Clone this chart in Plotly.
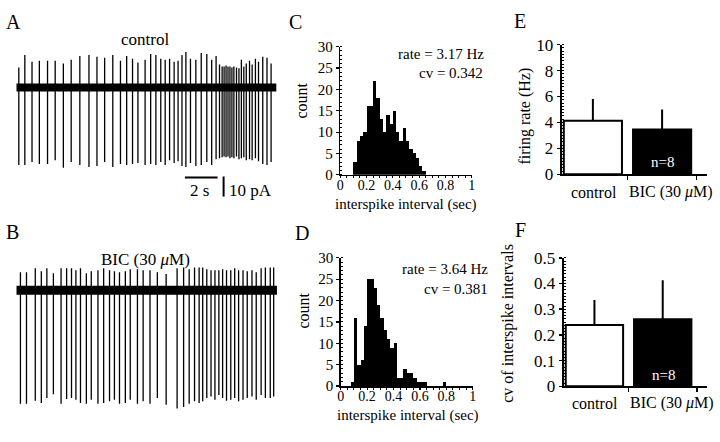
import plotly.graph_objects as go

W, H = 720, 442
FONT = "Liberation Serif"

# ---------------- Panel A / B : membrane current traces ----------------
ctrl_spike_t = [0.18, 0.55, 0.99, 1.44, 1.94, 2.41, 2.91, 3.39, 3.92, 4.48,
                4.97, 5.44, 5.94, 6.41, 6.79, 7.15, 7.48, 7.92, 8.26, 8.58,
                8.88, 9.15, 9.42, 9.70, 9.94, 10.18, 10.42, 10.70, 11.03, 11.36,
                11.70, 12.00, 12.27, 12.48, 12.64, 12.76, 12.88, 13.00, 13.12, 13.24,
                13.36, 13.52, 13.67, 13.82, 13.97, 14.12, 14.32, 14.48, 14.68, 14.87,
                15.13, 15.39, 15.64]
ctrl_spike_up = [10.5, 17, 13.5, 14, 14, 14, 12.5, 14.5, 16.5, 17,
                 16, 15.5, 17, 14, 16.5, 15, 13, 14.5, 17.5, 17,
                 15, 14.5, 15, 13.5, 14, 17, 18.5, 15, 14.5, 18,
                 17.5, 14.5, 16.5, 12, 11, 11, 11.5, 11, 11, 10.5,
                 11, 10.5, 10, 14.5, 11, 12.5, 14, 12, 15, 13.5,
                 16, 15.5, 12.5]
ctrl_spike_down = [-40.5, -40.5, -39, -40, -40, -38, -42, -39, -40.5, -41.5,
                   -41, -39, -41.5, -40, -40.5, -40, -39.5, -40.5, -40, -40.5,
                   -39, -40.5, -38, -39.5, -38.5, -41, -41.5, -39.5, -41, -40.5,
                   -39, -40.5, -37.5, -37, -36.5, -36, -36.5, -36, -37, -36.5,
                   -37, -36, -37.5, -37, -36.5, -38, -37.5, -38, -37, -38.5,
                   -40, -40.5, -39]
ctrl_trace_span = [0.04, 15.96]

bic_spike_t = [0.28, 0.65, 1.19, 1.56, 1.90, 2.30, 2.77, 3.11, 3.41, 3.68,
               3.96, 4.32, 4.62, 5.03, 5.38, 5.74, 6.04, 6.35, 6.71, 7.01,
               7.45, 7.80, 8.22, 8.67, 9.21, 9.88, 10.28, 10.62, 10.95, 11.23,
               11.45, 11.70, 11.96, 12.20, 12.44, 12.67, 12.91, 13.17, 13.41, 13.65,
               13.92, 14.18, 14.47, 14.73, 15.03, 15.29, 15.59, 15.80]
bic_spike_up = [9.5, 9.5, 11.5, 10, 11.5, 9, 11.5, 11.5, 11.5, 10.5,
                11.5, 9, 10, 10.5, 11.5, 10.5, 10, 9.5, 10, 11,
                11, 10.5, 10.5, 9.5, 8.5, 11.5, 12, 11, 12, 12,
                12, 11, 10.5, 10.5, 10.5, 11, 10.5, 10.5, 11.5, 10.5,
                10.5, 10, 10.5, 9.5, 11.5, 12, 12, 12]
bic_spike_down = [-59.3, -59.3, -57.7, -58.8, -56.3, -54.3, -59.3, -56.7, -56.3, -57.2,
                  -58.8, -59.3, -57.2, -59.3, -58.8, -58, -57.2, -59.3, -58.8, -57.2,
                  -59.3, -58, -59.3, -56.3, -59.7, -61.7, -61, -59.3, -58, -58.8,
                  -58, -56.3, -55.5, -57.2, -54.7, -56.3, -57.7, -57.2, -56.3, -58,
                  -57.2, -56.3, -55.5, -57.2, -54.7, -56.3, -56.3, -55.5]
bic_trace_span = [0.04, 16.0]

# scale bars (2 s, 10 pA)
scale_t = [10.36, 12.36]
scale_pa = [-46.5, -56.5]

# ---------------- Panel C / D : ISI histograms ----------------
isi_bin_width = 0.025
ctrl_isi_left = [0.1, 0.125, 0.15, 0.175, 0.2, 0.225, 0.25, 0.275, 0.3, 0.325,
                 0.35, 0.375, 0.4, 0.425, 0.45, 0.475, 0.5, 0.525, 0.55, 0.575,
                 0.6, 0.625]
ctrl_isi_count = [3, 8, 9, 10, 16, 16, 22, 18, 13, 10,
                  14, 12, 15, 10, 8, 11, 8, 6, 5, 4,
                  2, 1]
bic_isi_left = [0.075, 0.1, 0.125, 0.15, 0.175, 0.2, 0.225, 0.25, 0.275, 0.3,
                0.325, 0.35, 0.375, 0.4, 0.425, 0.45, 0.475, 0.5, 0.525, 0.55,
                0.575, 0.6, 0.625, 0.775]
bic_isi_count = [1, 16, 5, 6, 14, 25, 25, 23, 19, 16,
                 13, 11, 9, 10, 2, 2, 4, 3, 3, 2,
                 1, 1, 1, 1]

# ---------------- Panel E / F : group summaries ----------------
groups = ["control", "BIC (30 μM)"]
rate_mean = [4.14, 3.45]
rate_sd = [1.67, 1.55]
cv_mean = [0.239, 0.261]
cv_sd = [0.097, 0.152]


def dx(a, b):
    return [a / W, b / W]


def dy(top, bottom):
    return [1 - bottom / H, 1 - top / H]


def segs(t, up, dn):
    xs, ys = [], []
    for ti, u, d in zip(t, up, dn):
        xs += [ti, ti, None]
        ys += [u, d, None]
    return xs, ys


fig = go.Figure()

# A trace
xs, ys = segs(ctrl_spike_t, ctrl_spike_up, ctrl_spike_down)
fig.add_trace(go.Scatter(x=ctrl_trace_span, y=[0, 0], mode="lines",
                         line=dict(color="black", width=8), xaxis="x", yaxis="y",
                         hoverinfo="skip"))
fig.add_trace(go.Scatter(x=xs, y=ys, mode="lines", line=dict(color="black", width=1.3),
                         xaxis="x", yaxis="y", connectgaps=False, hoverinfo="skip"))
# B trace
xs, ys = segs(bic_spike_t, bic_spike_up, bic_spike_down)
fig.add_trace(go.Scatter(x=bic_trace_span, y=[0, 0], mode="lines",
                         line=dict(color="black", width=9), xaxis="x2", yaxis="y2",
                         hoverinfo="skip"))
fig.add_trace(go.Scatter(x=xs, y=ys, mode="lines", line=dict(color="black", width=1.3),
                         xaxis="x2", yaxis="y2", connectgaps=False, hoverinfo="skip"))

# C, D histograms
fig.add_trace(go.Bar(x=[l + isi_bin_width / 2 for l in ctrl_isi_left], y=ctrl_isi_count,
                     width=isi_bin_width, marker=dict(color="black", line=dict(width=0)),
                     xaxis="x3", yaxis="y3"))
fig.add_trace(go.Bar(x=[l + isi_bin_width / 2 for l in bic_isi_left], y=bic_isi_count,
                     width=isi_bin_width, marker=dict(color="black", line=dict(width=0)),
                     xaxis="x4", yaxis="y4"))

# E, F bars
bar_style = dict(marker=dict(color=["white", "black"], line=dict(color="black", width=2)),
                 width=0.84)
fig.add_trace(go.Bar(x=groups, y=rate_mean, xaxis="x5", yaxis="y5",
                     error_y=dict(type="data", array=rate_sd, arrayminus=[0, 0], symmetric=False,
                                  color="black", thickness=2, width=0), **bar_style))
fig.add_trace(go.Bar(x=groups, y=cv_mean, xaxis="x6", yaxis="y6",
                     error_y=dict(type="data", array=cv_sd, arrayminus=[0, 0], symmetric=False,
                                  color="black", thickness=2, width=0), **bar_style))

hidden = dict(visible=False, fixedrange=True)


def hist_axes(xd, yd, anchor_x, anchor_y):
    xa = dict(domain=xd, range=[0, 1], anchor=anchor_y, showline=True, linecolor="black",
              linewidth=1.5, ticks="outside", ticklen=2, tickwidth=1.2, tickcolor="black",
              tickvals=[0, 0.2, 0.4, 0.6, 0.8, 1], ticktext=["0", "0.2", "0.4", "0.6", "0.8", "1"],
              minor=dict(dtick=0.05, ticks="outside", ticklen=2, tickcolor="black", tickwidth=1),
              showgrid=False, zeroline=False, fixedrange=True, ticklabelstandoff=-5,
              tickfont=dict(family=FONT, size=14, color="black"))
    ya = dict(domain=yd, range=[0, 30], anchor=anchor_x, showline=True, linecolor="black",
              linewidth=1.5, ticks="outside", ticklen=3, tickwidth=1.2, tickcolor="black",
              dtick=5, minor=dict(dtick=1, ticks="inside", ticklen=2, tickcolor="black", tickwidth=1),
              showgrid=False, zeroline=False, tickfont=dict(family=FONT, size=15, color="black"),
              fixedrange=True)
    return xa, ya


def bar_axes(xd, yd, anchor_x, anchor_y, yr, ydt, yminor):
    xa = dict(domain=xd, range=[-0.45, 1.65], anchor=anchor_y, showline=True, linecolor="black",
              linewidth=2, ticks="outside", ticklen=4, tickwidth=1.5, tickcolor="black",
              tickson="boundaries", showticklabels=False, showgrid=False, zeroline=False,
              type="category", fixedrange=True)
    ya = dict(domain=yd, range=yr, anchor=anchor_x, showline=True, linecolor="black",
              linewidth=2, ticks="outside", ticklen=3, tickwidth=1.5, tickcolor="black",
              dtick=ydt, minor=dict(dtick=yminor, ticks="inside", ticklen=2, tickcolor="black", tickwidth=1),
              showgrid=False, zeroline=False, tickfont=dict(family=FONT, size=17, color="black"),
              fixedrange=True)
    return xa, ya


x3, y3 = hist_axes(dx(340, 473), dy(39.3, 173.3), "x3", "y3")
x4, y4 = hist_axes(dx(340.5, 474), dy(260, 394), "x4", "y4")
x5, y5 = bar_axes(dx(564, 711), dy(37.3, 172.7), "x5", "y5", [0, 10], 2, 0.25)
x6, y6 = bar_axes(dx(566, 711), dy(260, 394.3), "x6", "y6", [0, 0.5], 0.1, 0.0125)

fig.update_layout(
    width=W, height=H, margin=dict(l=0, r=0, t=0, b=0), autosize=False,
    paper_bgcolor="white", plot_bgcolor="rgba(0,0,0,0)", showlegend=False,
    font=dict(family=FONT, color="black"),
    xaxis=dict(domain=dx(12, 278), range=[0, 16.12], anchor="y", **hidden),
    yaxis=dict(domain=dy(36, 200), range=[-59, 23], anchor="x", **hidden),
    xaxis2=dict(domain=dx(12, 278), range=[0, 16.12], anchor="y2", **hidden),
    yaxis2=dict(domain=dy(250, 430), range=[-68, 22], anchor="x2", **hidden),
    xaxis3=x3, yaxis3=y3, xaxis4=x4, yaxis4=y4,
    xaxis5=x5, yaxis5=y5, xaxis6=x6, yaxis6=y6,
    bargap=0,
)

# scale bars in A (data coordinates of trace A)
fig.add_shape(type="line", xref="x", yref="y", x0=scale_t[0], x1=scale_t[1],
              y0=scale_pa[0] - 0.5, y1=scale_pa[0] - 0.5, line=dict(color="black", width=2))
fig.add_shape(type="line", xref="x", yref="y", x0=scale_t[1] + 0.37, x1=scale_t[1] + 0.37,
              y0=scale_pa[0], y1=scale_pa[1] - 0.5, line=dict(color="black", width=2))


def ann(text, px, py, size=15, xanchor="center", angle=0, color="black"):
    fig.add_annotation(text=text, x=px / W, y=1 - py / H, xref="paper", yref="paper",
                       showarrow=False, xanchor=xanchor, yanchor="middle", textangle=angle,
                       font=dict(family=FONT, size=size, color=color), borderpad=0)


# panel letters
for letter, px, py in [("A", 10, 14), ("B", 9, 233), ("C", 295, 14),
                       ("D", 301, 234), ("E", 522, 13), ("F", 522, 231)]:
    ann(letter, px, py, size=20)

# trace titles and scale labels
ann("control", 142.5, 32, size=17)
ann("BIC (30 <i>μ</i>M)", 142.7, 261.5, size=17)
ann("2 s", 198, 190, size=17)
ann("10 pA", 249, 190, size=17)

# histogram texts
ann("rate = 3.17 Hz", 486, 47, size=15, xanchor="right")
ann("cv = 0.342", 485, 67, size=15, xanchor="right")
ann("rate = 3.64 Hz", 490, 272, size=15, xanchor="right")
ann("cv = 0.381", 490, 292.5, size=15, xanchor="right")
ann("count", 301, 96, size=16, angle=-90)
ann("count", 302.5, 315, size=16, angle=-90)
ann("interspike interval (sec)", 407, 204, size=15)
ann("interspike interval (sec)", 409, 425, size=15)

# bar chart texts
ann("firing rate (Hz)", 526.5, 111.7, size=16, angle=-90)
ann("cv of interspike intervals", 509.5, 328, size=16, angle=-90)
ann(groups[0], 597, 191.7, size=16)
ann("BIC (30 <i>μ</i>M)", 674, 191.7, size=16)
ann(groups[0], 598, 411.7, size=16)
ann("BIC (30 <i>μ</i>M)", 675.5, 411.7, size=16)
ann("n=8", 666, 160, size=15, color="white")
ann("n=8", 666.5, 382.7, size=15, color="white")

fig.write_html("out.html", config={"displayModeBar": False, "staticPlot": True},
               post_script="document.body.style.margin='0px';")
